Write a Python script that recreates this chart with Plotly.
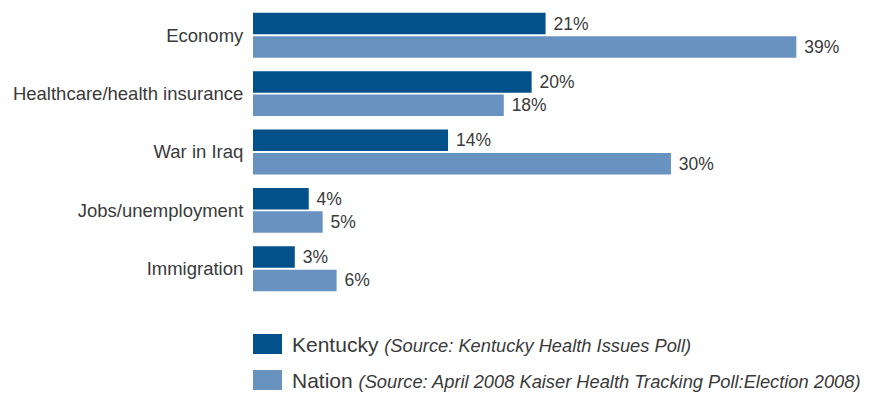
import plotly.graph_objects as go

# Most important issue for the 2008 election
issues = ["Economy", "Healthcare/health insurance", "War in Iraq",
          "Jobs/unemployment", "Immigration"]
kentucky = [21, 20, 14, 4, 3]
nation = [39, 18, 30, 5, 6]

series_names = ["Kentucky", "Nation"]
series_sources = ["(Source: Kentucky Health Issues Poll)",
                  "(Source: April 2008 Kaiser Health Tracking Poll:Election 2008)"]

DARK = "#03518a"
LIGHT = "#6892bf"
TEXT = "#3a3a3a"
FONT = "Liberation Sans, Arial, sans-serif"

W, H = 869, 393
ML, MR, MT, MB = 253, 3, 6, 95
PW, PH = W - ML - MR, H - MT - MB

fig = go.Figure()
for name, vals, col in [(series_names[0], kentucky, DARK),
                        (series_names[1], nation, LIGHT)]:
    fig.add_trace(go.Bar(
        y=issues, x=vals, orientation="h", name=name,
        marker=dict(color=col, line=dict(width=0)),
        text=[f"{v}%" for v in vals], texttemplate=" %{text}",
        textposition="outside", constraintext="none",
        textfont=dict(family=FONT, size=17.5, color=TEXT),
        cliponaxis=False, showlegend=False,
    ))

# Custom legend below the bars: large swatches with source notes
def px_to_paper_x(px):
    return (px - ML) / PW

def px_to_paper_y(py):
    return (MT + PH - py) / PH

legend_rows = [(334, 354), (370, 390)]
for (top, bot), name, src, col in zip(legend_rows, series_names,
                                      series_sources, [DARK, LIGHT]):
    fig.add_shape(type="rect", xref="paper", yref="paper",
                  x0=px_to_paper_x(253), x1=px_to_paper_x(282),
                  y0=px_to_paper_y(bot), y1=px_to_paper_y(top),
                  fillcolor=col, line=dict(width=0))
    fig.add_annotation(
        xref="paper", yref="paper",
        x=px_to_paper_x(290), y=px_to_paper_y((top + bot) / 2),
        xanchor="left", yanchor="middle", showarrow=False,
        text=(f"{name} <span style='font-size:18.3px'>"
              f"<i>{src}</i></span>"),
        font=dict(family=FONT, size=21, color=TEXT),
    )

fig.update_layout(
    width=W, height=H,
    margin=dict(l=ML, r=MR, t=MT, b=MB, pad=0),
    paper_bgcolor="white", plot_bgcolor="white",
    barmode="group", bargap=0.2, bargroupgap=0.08,
    xaxis=dict(visible=False, range=[0, 44], fixedrange=True),
    yaxis=dict(range=[4.5, -0.5], showgrid=False, zeroline=False,
               showline=False, ticks="outside", ticklen=5,
               tickcolor="rgba(0,0,0,0)",
               tickfont=dict(family=FONT, size=18.5, color=TEXT)),
    showlegend=False,
)

fig.write_html("out.html")
